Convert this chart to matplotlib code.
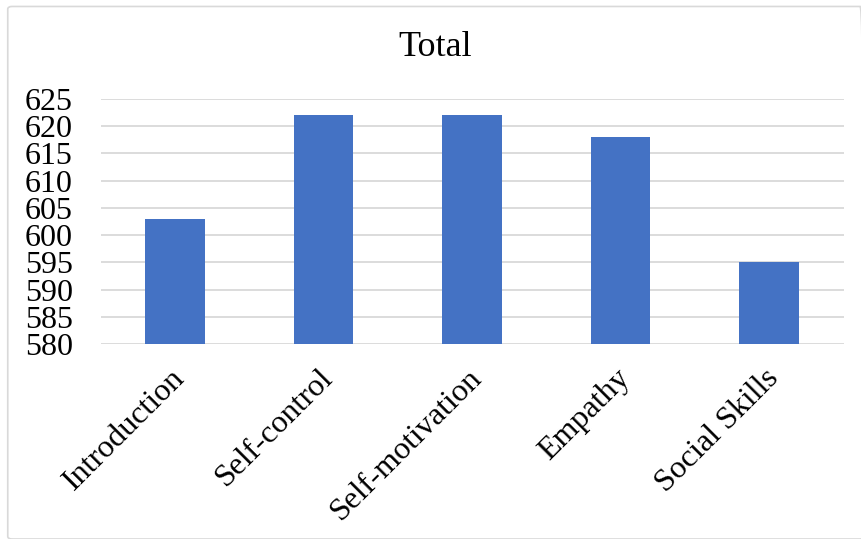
import matplotlib.pyplot as plt
from matplotlib.patches import FancyBboxPatch
from matplotlib.transforms import ScaledTranslation

categories = ["Introduction", "Self-control", "Self-motivation", "Empathy", "Social Skills"]
totals = [603, 622, 622, 618, 595]
y_ticks = [580, 585, 590, 595, 600, 605, 610, 615, 620, 625]

plt.rcParams['font.family'] = ['Liberation Serif', 'DejaVu Serif']

fig = plt.figure(figsize=(8.61, 5.39), dpi=100)
# chart area border
fig.patches.append(FancyBboxPatch((0.009, 0.0), 0.995, 0.988, boxstyle="round,pad=0,rounding_size=0.005",
                                  transform=fig.transFigure, fill=False, edgecolor='#d9d9d9', linewidth=1.2))

ax = fig.add_axes([100.5 / 861, 1 - 344 / 539, (843.5 - 100.5) / 861, (344 - 99) / 539])
x = range(len(categories))
ax.bar(x, totals, width=0.4, color='#4472C4', zorder=3)
ax.set_ylim(580, 625)
ax.set_xlim(-0.5, len(categories) - 0.5)
ax.set_yticks(y_ticks)
ax.set_yticklabels([str(v) for v in y_ticks], fontsize=23)
ax.set_xticks(list(x))
ax.set_xticklabels(categories, fontsize=23, rotation=45, ha='right', rotation_mode='anchor')
ax.tick_params(axis='both', length=0)
ax.tick_params(axis='y', pad=20)
ax.tick_params(axis='x', pad=14)
# nudge the rotated labels a little to the left
offset = ScaledTranslation(-5 / 100, 0, fig.dpi_scale_trans)
for lbl in ax.get_xticklabels():
    lbl.set_transform(lbl.get_transform() + offset)
ax.grid(axis='y', color='#d9d9d9', linewidth=1.3, zorder=0)
for s in ax.spines.values():
    s.set_visible(False)

fig.text(435 / 861, 1 - 47 / 539, "Total", ha='center', va='center', fontsize=26)

fig.savefig("out.png", dpi=100)
